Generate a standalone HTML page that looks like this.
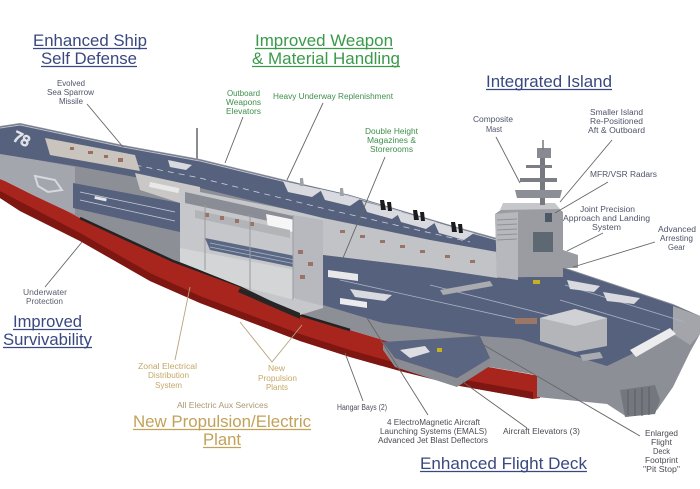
<!DOCTYPE html>
<html><head><meta charset="utf-8">
<style>
html,body{margin:0;padding:0;background:#fff;}
svg{display:block;}
text{font-family:"Liberation Sans",Arial,sans-serif;}
</style></head><body>
<svg width="700" height="489" viewBox="0 0 700 489" xmlns="http://www.w3.org/2000/svg">
<rect width="700" height="489" fill="#ffffff"/>

<!-- red hull -->
<path d="M0,179 L5,181 L33,195 L67,211 L80,218 L173,261 L240,286 L300,315 L350,330 L400,345 L460,362 L540,376 L540,398 L533,399 L460,386 L400,371 L350,357 L300,341 L250,322 L200,303 L150,281 L80,241 L20,211 L0,198 Z" fill="#a8251e"/>
<path d="M0,191 L80,233 L150,273 L200,296 L250,315 L300,334 L350,350 L400,364 L460,379 L533,392 L533,399 L460,386 L400,371 L350,357 L300,341 L250,322 L200,303 L150,281 L80,241 L20,211 L0,198 Z" fill="#7e1612"/>

<!-- grey silhouette -->
<path d="M0,126 L20,123 L123,145 L200,159 L290,181 L350,195 L457,227 L497,238 L563,267 L673,304 L700,316 L700,334 L690,352 L673,387 L657,410 L627,417 L607,404 L537,397 L537,375 L460,362 L400,345 L350,330 L300,315 L240,286 L173,261 L80,218 L67,211 L33,195 L5,181 L0,179 Z" fill="#8d8f97"/>
<polyline points="80,218 173,261 240,286 300,315 350,330" fill="none" stroke="#232323" stroke-width="2.5"/>

<!-- left hull side -->
<path d="M0,153 L75,167 L75,214 L67,211 L33,195 L5,181 L0,179 Z" fill="#a4a6ad"/>
<path d="M35,176 L55,180 L62,190 L48,192 L38,186 Z" fill="none" stroke="#d8d9dd" stroke-width="2"/>

<!-- top deck strip -->
<path d="M0,127 L20,124 L123,146 L200,160 L290,182 L350,195 L457,228 L497,239 L497,252 L430,240 L323,218 L290,210 L200,188 L140,178 L75,166 L0,154 Z" fill="#56627d"/>
<polyline points="0,128 20,125 123,147 200,161 290,183 350,196 457,229 497,240" fill="none" stroke="#b9bfcc" stroke-width="1"/>
<polyline points="60,150 200,178 330,210 470,242" fill="none" stroke="#c9ceda" stroke-width="0.8" stroke-dasharray="6,5"/>
<text x="12" y="140" font-size="15" fill="none" stroke="#e2e4ea" stroke-width="1.2" transform="rotate(25 12 140)">78</text>

<!-- light band in front deck -->
<path d="M45,138 L135,155 L140,171 L50,155 Z" fill="#c9c4bd"/>
<g fill="#9c6e5e"><rect x="70" y="147" width="4" height="3"/><rect x="88" y="151" width="5" height="3"/><rect x="104" y="155" width="4" height="3"/><rect x="118" y="158" width="5" height="4"/></g>
<path d="M135,173 L200,187 L200,200 L180,203 L140,190 Z" fill="#c9c8c6"/>
<rect x="150" y="182" width="30" height="5" fill="#e8e8e8" transform="rotate(12 150 182)"/>

<!-- sponson deck -->
<path d="M73,183 L180,203 L180,232 L73,208 Z" fill="#56627d"/>
<line x1="80" y1="192" x2="175" y2="212" stroke="#c8cdd8" stroke-width="0.8"/>
<line x1="80" y1="200" x2="175" y2="221" stroke="#c8cdd8" stroke-width="0.8"/>
<rect x="95" y="196" width="12" height="3" fill="#e6e6e6" transform="rotate(12 95 196)"/>

<!-- middle cutaway -->
<path d="M180,188 L290,210 L323,218 L323,308 L300,315 L240,286 L180,262 Z" fill="#c6c7cb"/>
<path d="M185,192 L320,222 L320,232 L185,203 Z" fill="#8a8d95"/>
<path d="M266,214 L300,221 L300,233 L268,228 Z" fill="#f6f6f6"/>
<path d="M195,210 L290,230 L290,238 L195,218 Z" fill="#b3b4b8"/>
<g fill="#9a7266"><rect x="205" y="213" width="4" height="4"/><rect x="220" y="216" width="4" height="4"/><rect x="235" y="219" width="4" height="4"/><rect x="250" y="222" width="4" height="4"/></g>
<path d="M205,238 L295,256 L298,268 L210,250 Z" fill="#5b6884"/>
<line x1="210" y1="243" x2="295" y2="260" stroke="#a9b3c8" stroke-width="0.8"/>
<line x1="210" y1="247" x2="296" y2="264" stroke="#a9b3c8" stroke-width="0.8"/>
<path d="M180,248 L295,270 L295,300 L240,286 L180,262 Z" fill="#d4d5d7"/>
<path d="M240,288 L300,313 L300,319 L238,292 Z" fill="#262626"/>
<path d="M293,215 L323,220 L323,306 L293,298 Z" fill="#b7b9be"/>
<g fill="#9a7266"><rect x="298" y="250" width="5" height="4"/><rect x="308" y="262" width="5" height="4"/><rect x="300" y="275" width="5" height="4"/></g>
<g stroke="#9a9ca2" stroke-width="1"><line x1="205" y1="205" x2="205" y2="270"/><line x1="250" y1="215" x2="250" y2="290"/><line x1="293" y1="215" x2="293" y2="300"/></g>

<!-- wall band -->
<path d="M323,218 L430,240 L497,252 L497,278 L430,268 L323,255 Z" fill="#c2c3c7"/>
<g fill="#9a7266"><rect x="340" y="230" width="5" height="3"/><rect x="360" y="235" width="5" height="3"/><rect x="380" y="240" width="5" height="3"/><rect x="400" y="245" width="5" height="3"/><rect x="420" y="250" width="5" height="3"/><rect x="445" y="255" width="5" height="3"/><rect x="470" y="260" width="5" height="3"/></g>

<!-- lower deck -->
<path d="M323,255 L430,268 L497,278 L563,276 L563,268 L673,305 L700,316 L700,323 L673,334 L640,350 L607,366 L520,339 L480,336 L383,323 L323,305 Z" fill="#56627d"/>
<path d="M673,306 L700,316 L700,334 L690,345 L673,334 Z" fill="#a3a5ab"/>
<g stroke="#a8b2c6" stroke-width="0.8"><line x1="340" y1="280" x2="520" y2="320"/><line x1="430" y1="285" x2="560" y2="318"/><line x1="565" y1="285" x2="685" y2="322"/><line x1="560" y1="300" x2="660" y2="330"/></g>
<path d="M328,270 L358,274 L358,281 L328,277 Z" fill="#e8e8ea"/>
<path d="M340,298 L367,302 L367,308 L340,304 Z" fill="#ececee"/>
<path d="M440,290 L490,281 L493,286 L443,295 Z" fill="#a9abb1"/>
<path d="M540,318 L575,309 L607,318 L607,346 L575,352 L540,341 Z" fill="#b4b5b9"/>
<path d="M540,318 L575,309 L607,318 L575,326 Z" fill="#d0d1d4"/>
<rect x="515" y="318" width="22" height="6" fill="#9b7768"/>
<path d="M630,350 L670,328 L676,334 L636,357 Z" fill="#ececee"/>
<path d="M580,355 L600,352 L603,358 L583,361 Z" fill="#a9abb1"/>
<!-- stern grille -->
<path d="M620,390 L655,385 L660,400 L655,414 L625,417 Z" fill="#75777e"/>
<g stroke="#5b5d63" stroke-width="1"><line x1="628" y1="390" x2="628" y2="415"/><line x1="635" y1="389" x2="635" y2="416"/><line x1="642" y1="388" x2="642" y2="416"/><line x1="649" y1="387" x2="649" y2="415"/></g>

<!-- elevator platform -->
<path d="M383,342 L395,358 L457,378 L490,358 L490,366 L457,387 L395,367 L383,350 Z" fill="#8a8c94"/>
<path d="M383,342 L480,336 L490,358 L457,378 L395,358 Z" fill="#5a6681"/>
<path d="M400,350 L425,346 L430,352 L410,358 Z" fill="#dcdee2"/>
<rect x="437" y="348" width="5" height="4" fill="#c9b020"/>

<!-- yellow tractors -->
<rect x="513" y="273" width="7" height="4" fill="#c9b020"/>
<rect x="533" y="280" width="7" height="4" fill="#c9b020"/>

<!-- island -->
<path d="M495,214 L505,207 L557,207 L563,212 L563,277 L497,277 Z" fill="#9a9ca2"/>
<path d="M495,214 L518,212 L518,280 L497,277 Z" fill="#b6b8bd"/>
<g stroke="#8f9197" stroke-width="1"><line x1="497" y1="220" x2="517" y2="219"/><line x1="497" y1="225" x2="517" y2="224"/><line x1="497" y1="230" x2="517" y2="229"/><line x1="497" y1="235" x2="517" y2="234"/><line x1="497" y1="240" x2="517" y2="239"/></g>
<path d="M503,203 L555,203 L560,209 L500,210 Z" fill="#c6c7cb"/>
<rect x="533" y="232" width="20" height="20" fill="#5e6872"/>
<rect x="545" y="213" width="7" height="9" fill="#4f5965"/>
<rect x="540" y="150" width="5" height="55" fill="#777981"/>
<path d="M515,190 L562,190 L560,198 L517,198 Z" fill="#8c8e95"/>
<rect x="520" y="178" width="37" height="4" fill="#7c7e85"/>
<rect x="526" y="165" width="26" height="3" fill="#7c7e85"/>
<rect x="537" y="148" width="14" height="10" fill="#888a91"/>
<line x1="543" y1="140" x2="543" y2="150" stroke="#777" stroke-width="1.5"/>
<path d="M563,250 L578,255 L578,268 L563,268 Z" fill="#9a9ca2"/>

<!-- front mast -->
<line x1="197" y1="128" x2="197" y2="160" stroke="#8a8c93" stroke-width="2"/>

<!-- aircraft upper strip -->
<g fill="#d8dadf">
<path d="M168,160 L192,165 L186,170 L170,167 Z"/>
<path d="M283,181 L322,190 L312,197 L288,192 Z"/>
<path d="M320,189 L360,199 L350,206 L325,200 Z"/>
<path d="M362,201 L402,212 L392,219 L367,212 Z"/>
<path d="M396,211 L436,222 L426,229 L401,222 Z"/>
<path d="M434,222 L474,233 L464,240 L439,233 Z"/>
<path d="M350,289 L392,295 L385,301 L355,297 Z"/>
<path d="M567,280 L600,286 L594,292 L570,289 Z"/>
<path d="M603,292 L640,298 L634,304 L607,301 Z"/>
</g>
<g fill="#1c1c1c">
<path d="M380,200 L384,200 L386,210 L381,210 Z"/><path d="M387,202 L391,202 L392,211 L388,211 Z"/>
<path d="M413,210 L417,210 L419,220 L414,220 Z"/><path d="M420,212 L424,212 L425,221 L421,221 Z"/>
<path d="M451,222 L455,222 L457,232 L452,232 Z"/><path d="M458,224 L462,224 L463,233 L459,233 Z"/>
</g>
<g fill="#9fa2a8">
<path d="M300,178 L303,178 L304,186 L300,186 Z"/><path d="M340,188 L343,188 L344,196 L340,196 Z"/>
</g>

<!-- leader lines -->
<g stroke="#666" stroke-width="0.9" fill="none">
<line x1="87" y1="104" x2="123" y2="147"/>
<line x1="243" y1="117" x2="225" y2="163"/>
<line x1="323" y1="103" x2="287" y2="180"/>
<line x1="385" y1="157" x2="343" y2="258"/>
<line x1="496" y1="137" x2="520" y2="183"/>
<line x1="612" y1="140" x2="560" y2="202"/>
<line x1="608" y1="182" x2="555" y2="213"/>
<line x1="603" y1="233" x2="567" y2="251"/>
<line x1="655" y1="242" x2="573" y2="267"/>
<line x1="82" y1="242" x2="45" y2="287"/>
<line x1="363" y1="401" x2="345" y2="353"/>
<line x1="428" y1="415" x2="367" y2="318"/>
<line x1="527" y1="428" x2="463" y2="382"/>
<line x1="640" y1="436" x2="470" y2="337"/>
</g>
<g stroke="#b7a47c" stroke-width="0.9" fill="none">
<line x1="190" y1="287" x2="175" y2="360"/>
<polyline points="240,322 272,362 302,325"/>
</g>

<!-- headings -->
<g font-size="17">
<text x="90" y="46" text-anchor="middle" fill="#3a4880" textLength="114" lengthAdjust="spacingAndGlyphs">Enhanced Ship</text>
<text x="89" y="64" text-anchor="middle" fill="#3a4880" textLength="96" lengthAdjust="spacingAndGlyphs">Self Defense</text>
<text x="324" y="46" text-anchor="middle" fill="#3a9a4a" textLength="138" lengthAdjust="spacingAndGlyphs">Improved Weapon</text>
<text x="326" y="64" text-anchor="middle" fill="#3a9a4a" textLength="148" lengthAdjust="spacingAndGlyphs">&amp; Material Handling</text>
<text x="549" y="87" text-anchor="middle" fill="#3a4880" textLength="126" lengthAdjust="spacingAndGlyphs">Integrated Island</text>
<text x="47.5" y="327" text-anchor="middle" fill="#3a4880" textLength="69" lengthAdjust="spacingAndGlyphs">Improved</text>
<text x="47.5" y="345" text-anchor="middle" fill="#3a4880" textLength="89" lengthAdjust="spacingAndGlyphs">Survivability</text>
<text x="222" y="427" text-anchor="middle" fill="#c2a259" textLength="178" lengthAdjust="spacingAndGlyphs">New Propulsion/Electric</text>
<text x="222" y="445" text-anchor="middle" fill="#c2a259" textLength="38" lengthAdjust="spacingAndGlyphs">Plant</text>
<text x="503.5" y="469" text-anchor="middle" fill="#3a4880" textLength="167" lengthAdjust="spacingAndGlyphs">Enhanced Flight Deck</text>
</g>
<g stroke-width="1.3">
<line x1="33" y1="48.5" x2="147" y2="48.5" stroke="#3a4880"/>
<line x1="41" y1="66.5" x2="137" y2="66.5" stroke="#3a4880"/>
<line x1="255" y1="48.5" x2="393" y2="48.5" stroke="#3a9a4a"/>
<line x1="252" y1="66.5" x2="400" y2="66.5" stroke="#3a9a4a"/>
<line x1="486" y1="89.5" x2="612" y2="89.5" stroke="#3a4880"/>
<line x1="13" y1="329.5" x2="82" y2="329.5" stroke="#3a4880"/>
<line x1="3" y1="347.5" x2="92" y2="347.5" stroke="#3a4880"/>
<line x1="133" y1="429.5" x2="311" y2="429.5" stroke="#c2a259"/>
<line x1="203" y1="447.5" x2="241" y2="447.5" stroke="#c2a259"/>
<line x1="420" y1="471.5" x2="587" y2="471.5" stroke="#3a4880"/>
</g>

<!-- small labels -->
<g font-size="8" text-anchor="middle" fill="#4e5469">
<text x="71" y="86" textLength="28" lengthAdjust="spacingAndGlyphs">Evolved</text>
<text x="70.5" y="95" textLength="47" lengthAdjust="spacingAndGlyphs">Sea Sparrow</text>
<text x="71" y="104" textLength="24" lengthAdjust="spacingAndGlyphs">Missile</text>
<text x="493" y="122" textLength="40" lengthAdjust="spacingAndGlyphs">Composite</text>
<text x="494" y="132" textLength="16" lengthAdjust="spacingAndGlyphs">Mast</text>
<text x="616.5" y="115" textLength="53" lengthAdjust="spacingAndGlyphs">Smaller Island</text>
<text x="616.5" y="124" textLength="53" lengthAdjust="spacingAndGlyphs">Re-Positioned</text>
<text x="616.5" y="133" textLength="57" lengthAdjust="spacingAndGlyphs">Aft &amp; Outboard</text>
<text x="623.5" y="177" textLength="67" lengthAdjust="spacingAndGlyphs">MFR/VSR Radars</text>
<text x="607.5" y="212" textLength="55" lengthAdjust="spacingAndGlyphs">Joint Precision</text>
<text x="606.5" y="221" textLength="87" lengthAdjust="spacingAndGlyphs">Approach and Landing</text>
<text x="606.5" y="230" textLength="29" lengthAdjust="spacingAndGlyphs">System</text>
<text x="677" y="232" textLength="38" lengthAdjust="spacingAndGlyphs">Advanced</text>
<text x="676.5" y="241" textLength="33" lengthAdjust="spacingAndGlyphs">Arresting</text>
<text x="676.5" y="250" textLength="17" lengthAdjust="spacingAndGlyphs">Gear</text>
<text x="45" y="295" textLength="44" lengthAdjust="spacingAndGlyphs" fill="#5b5f70">Underwater</text>
<text x="44.5" y="304" textLength="37" lengthAdjust="spacingAndGlyphs" fill="#5b5f70">Protection</text>
<text x="362" y="410" textLength="50" lengthAdjust="spacingAndGlyphs" fill="#4a4a55">Hangar Bays (2)</text>
<text x="433.5" y="425" textLength="93" lengthAdjust="spacingAndGlyphs" fill="#4a4a55">4 ElectroMagnetic Aircraft</text>
<text x="433.5" y="434" textLength="107" lengthAdjust="spacingAndGlyphs" fill="#4a4a55">Launching Systems (EMALS)</text>
<text x="433" y="443" textLength="110" lengthAdjust="spacingAndGlyphs" fill="#4a4a55">Advanced Jet Blast Deflectors</text>
<text x="541.5" y="434" textLength="77" lengthAdjust="spacingAndGlyphs" fill="#4a4a55">Aircraft Elevators (3)</text>
<text x="661.5" y="436" textLength="33" lengthAdjust="spacingAndGlyphs" fill="#4a4a55">Enlarged</text>
<text x="661.5" y="445" textLength="21" lengthAdjust="spacingAndGlyphs" fill="#4a4a55">Flight</text>
<text x="661.5" y="454" textLength="17" lengthAdjust="spacingAndGlyphs" fill="#4a4a55">Deck</text>
<text x="661.5" y="463" textLength="33" lengthAdjust="spacingAndGlyphs" fill="#4a4a55">Footprint</text>
<text x="661.5" y="472" textLength="37" lengthAdjust="spacingAndGlyphs" fill="#4a4a55">"Pit Stop"</text>
</g>
<g font-size="8" text-anchor="middle" fill="#3f8f4c">
<text x="243.5" y="96" textLength="33" lengthAdjust="spacingAndGlyphs">Outboard</text>
<text x="243.5" y="105" textLength="35" lengthAdjust="spacingAndGlyphs">Weapons</text>
<text x="243.5" y="114" textLength="35" lengthAdjust="spacingAndGlyphs">Elevators</text>
<text x="333" y="99" textLength="120" lengthAdjust="spacingAndGlyphs">Heavy Underway Replenishment</text>
<text x="391.5" y="134" textLength="53" lengthAdjust="spacingAndGlyphs">Double Height</text>
<text x="391.5" y="143" textLength="49" lengthAdjust="spacingAndGlyphs">Magazines &amp;</text>
<text x="391.5" y="152" textLength="43" lengthAdjust="spacingAndGlyphs">Storerooms</text>
</g>
<g font-size="8" text-anchor="middle" fill="#c4a867">
<text x="167.5" y="369" textLength="59" lengthAdjust="spacingAndGlyphs">Zonal Electrical</text>
<text x="168.5" y="378" textLength="41" lengthAdjust="spacingAndGlyphs">Distribution</text>
<text x="168.5" y="388" textLength="27" lengthAdjust="spacingAndGlyphs">System</text>
<text x="276.5" y="371" textLength="17" lengthAdjust="spacingAndGlyphs">New</text>
<text x="277.5" y="381" textLength="39" lengthAdjust="spacingAndGlyphs">Propulsion</text>
<text x="277" y="390" textLength="22" lengthAdjust="spacingAndGlyphs">Plants</text>
<text x="222.5" y="408" textLength="91" lengthAdjust="spacingAndGlyphs" fill="#a99a70">All Electric Aux Services</text>
</g>
</svg>
</body></html>
